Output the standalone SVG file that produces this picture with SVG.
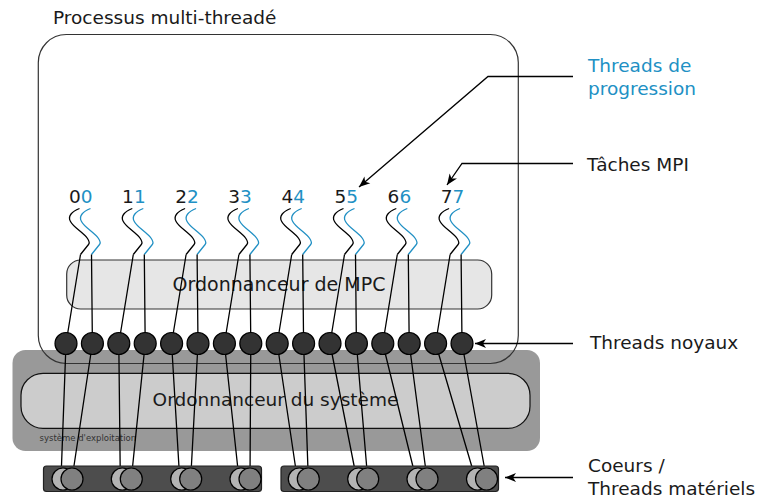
<svg xmlns="http://www.w3.org/2000/svg" width="757" height="504" viewBox="0 0 757 504">
<style>
text{font-family:"DejaVu Sans","Noto Sans",sans-serif;font-size:18.5px;fill:#1a1a1a}
.blue{fill:#2190c4}
.wave{fill:none;stroke:#000;stroke-width:1.3}
.wb{stroke:#2190c4}
.ln{stroke:#000;stroke-width:1.3;fill:none}
.arr{stroke:#000;stroke-width:1.3;fill:none;marker-end:url(#ah)}
.kt{fill:#333;stroke:#000;stroke-width:1.2}
.cl{fill:#b3b3b3;stroke:#000;stroke-width:1.2}
.cd{fill:#808080;stroke:#000;stroke-width:1.2}
.bar{fill:#4d4d4d;stroke:#222;stroke-width:1.2}
</style>
<defs>
<marker id="ah" markerUnits="userSpaceOnUse" markerWidth="16" markerHeight="12" viewBox="-12 -6 14 12" refX="0" refY="0" orient="auto">
<path d="M0,0 L-11,-4.5 L-8,0 L-11,4.5 Z" fill="#000"/>
</marker>
<path id="w" d="M0,0 C-8,3 -12,8 -9,13 C-6,19 4,24 8,30 C10,33 10,35 9,36 L1,46"/>
</defs>

<g id="os">
<rect x="12.5" y="350" width="527.5" height="101" rx="13" fill="#999"/>
<rect x="21" y="373.3" width="509" height="55" rx="22" fill="#ccc" stroke="#111" stroke-width="1.2"/>
<text x="275.5" y="406" text-anchor="middle">Ordonnanceur du système</text>
<text x="39.5" y="440.7" style="font-size:8.5px;fill:#333">système d'exploitation</text>
</g>

<g id="process">
<rect x="38.3" y="34.5" width="480" height="329" rx="28" fill="none" stroke="#333" stroke-width="1.2"/>
<text x="53" y="23.5">Processus multi-threadé</text>
</g>

<g id="mpc">
<rect x="66.7" y="260" width="425" height="49" rx="14" fill="#e6e6e6" stroke="#333" stroke-width="1.2"/>
<text x="279" y="291" text-anchor="middle" style="font-size:19px">Ordonnanceur de MPC</text>
</g>

<g id="tasks">
<text x="69" y="203.3">0<tspan class="blue">0</tspan></text>
<text x="122.1" y="203.3">1<tspan class="blue">1</tspan></text>
<text x="175.2" y="203.3">2<tspan class="blue">2</tspan></text>
<text x="228.3" y="203.3">3<tspan class="blue">3</tspan></text>
<text x="281.4" y="203.3">4<tspan class="blue">4</tspan></text>
<text x="334.5" y="203.3">5<tspan class="blue">5</tspan></text>
<text x="387.6" y="203.3">6<tspan class="blue">6</tspan></text>
<text x="440.7" y="203.3">7<tspan class="blue">7</tspan></text>
</g>

<g id="connectors">
<use href="#w" class="wave" x="79.5" y="208.5"/>
<use href="#w" class="wave wb" x="90.5" y="208.5"/>
<use href="#w" class="wave" x="132.3" y="208.5"/>
<use href="#w" class="wave wb" x="143.3" y="208.5"/>
<use href="#w" class="wave" x="185.1" y="208.5"/>
<use href="#w" class="wave wb" x="196.1" y="208.5"/>
<use href="#w" class="wave" x="237.9" y="208.5"/>
<use href="#w" class="wave wb" x="248.9" y="208.5"/>
<use href="#w" class="wave" x="290.7" y="208.5"/>
<use href="#w" class="wave wb" x="301.7" y="208.5"/>
<use href="#w" class="wave" x="343.5" y="208.5"/>
<use href="#w" class="wave wb" x="354.5" y="208.5"/>
<use href="#w" class="wave" x="396.3" y="208.5"/>
<use href="#w" class="wave wb" x="407.3" y="208.5"/>
<use href="#w" class="wave" x="449.1" y="208.5"/>
<use href="#w" class="wave wb" x="460.1" y="208.5"/>

<path class="ln" d="M80.5,254.5 L66,343.5 M91.5,254.5 L92.4,343.5
M133.3,254.5 L118.8,343.5 M144.3,254.5 L145.2,343.5
M186.1,254.5 L171.6,343.5 M197.1,254.5 L198,343.5
M238.9,254.5 L224.4,343.5 M249.9,254.5 L250.8,343.5
M291.7,254.5 L277.2,343.5 M302.7,254.5 L303.6,343.5
M344.5,254.5 L330,343.5 M355.5,254.5 L356.4,343.5
M397.3,254.5 L382.8,343.5 M408.3,254.5 L409.2,343.5
M450.1,254.5 L435.6,343.5 M461.1,254.5 L462,343.5"/>

<path class="ln" d="M66,343.5 L61,479 M92.4,343.5 L72,479
M118.8,343.5 L120.3,479 M145.2,343.5 L131.3,479
M171.6,343.5 L179.7,479 M198,343.5 L190.7,479
M224.4,343.5 L239,479 M250.8,343.5 L250,479
M277.2,343.5 L297.3,479 M303.6,343.5 L308.3,479
M330,343.5 L356.7,479 M356.4,343.5 L367.7,479
M382.8,343.5 L416,479 M409.2,343.5 L427,479
M435.6,343.5 L475.5,479 M462,343.5 L486.5,479"/>

<polyline class="arr" points="573,76.5 488,76.5 359,187"/>
<polyline class="arr" points="573,163.5 462,163.5 447,185"/>
<polyline class="arr" points="573,343.5 475,343.5"/>
<polyline class="arr" points="573,477.5 505,477.5"/>
</g>

<g id="kernel-threads">
<circle class="kt" cx="66" cy="343.5" r="11"/>
<circle class="kt" cx="92.4" cy="343.5" r="11"/>
<circle class="kt" cx="118.8" cy="343.5" r="11"/>
<circle class="kt" cx="145.2" cy="343.5" r="11"/>
<circle class="kt" cx="171.6" cy="343.5" r="11"/>
<circle class="kt" cx="198" cy="343.5" r="11"/>
<circle class="kt" cx="224.4" cy="343.5" r="11"/>
<circle class="kt" cx="250.8" cy="343.5" r="11"/>
<circle class="kt" cx="277.2" cy="343.5" r="11"/>
<circle class="kt" cx="303.6" cy="343.5" r="11"/>
<circle class="kt" cx="330" cy="343.5" r="11"/>
<circle class="kt" cx="356.4" cy="343.5" r="11"/>
<circle class="kt" cx="382.8" cy="343.5" r="11"/>
<circle class="kt" cx="409.2" cy="343.5" r="11"/>
<circle class="kt" cx="435.6" cy="343.5" r="11"/>
<circle class="kt" cx="462" cy="343.5" r="11"/>
</g>

<g id="cores">
<rect class="bar" x="43.5" y="466" width="218" height="25.5" rx="3"/>
<rect class="bar" x="281" y="466" width="217.5" height="25.5" rx="3"/>
<circle class="cl" cx="63" cy="479" r="11"/><circle class="cd" cx="72" cy="479" r="11"/>
<circle class="cl" cx="122.3" cy="479" r="11"/><circle class="cd" cx="131.3" cy="479" r="11"/>
<circle class="cl" cx="181.7" cy="479" r="11"/><circle class="cd" cx="190.7" cy="479" r="11"/>
<circle class="cl" cx="241" cy="479" r="11"/><circle class="cd" cx="250" cy="479" r="11"/>
<circle class="cl" cx="299.3" cy="479" r="11"/><circle class="cd" cx="308.3" cy="479" r="11"/>
<circle class="cl" cx="358.7" cy="479" r="11"/><circle class="cd" cx="367.7" cy="479" r="11"/>
<circle class="cl" cx="418" cy="479" r="11"/><circle class="cd" cx="427" cy="479" r="11"/>
<circle class="cl" cx="477.5" cy="479" r="11"/><circle class="cd" cx="486.5" cy="479" r="11"/>
</g>

<g id="legend">
<text x="588" y="72" class="blue">Threads de</text>
<text x="588" y="95" class="blue">progression</text>
<text x="587" y="171">Tâches MPI</text>
<text x="590" y="349.3">Threads noyaux</text>
<text x="588" y="472.3">Coeurs /</text>
<text x="588" y="495">Threads matériels</text>
</g>
</svg>
